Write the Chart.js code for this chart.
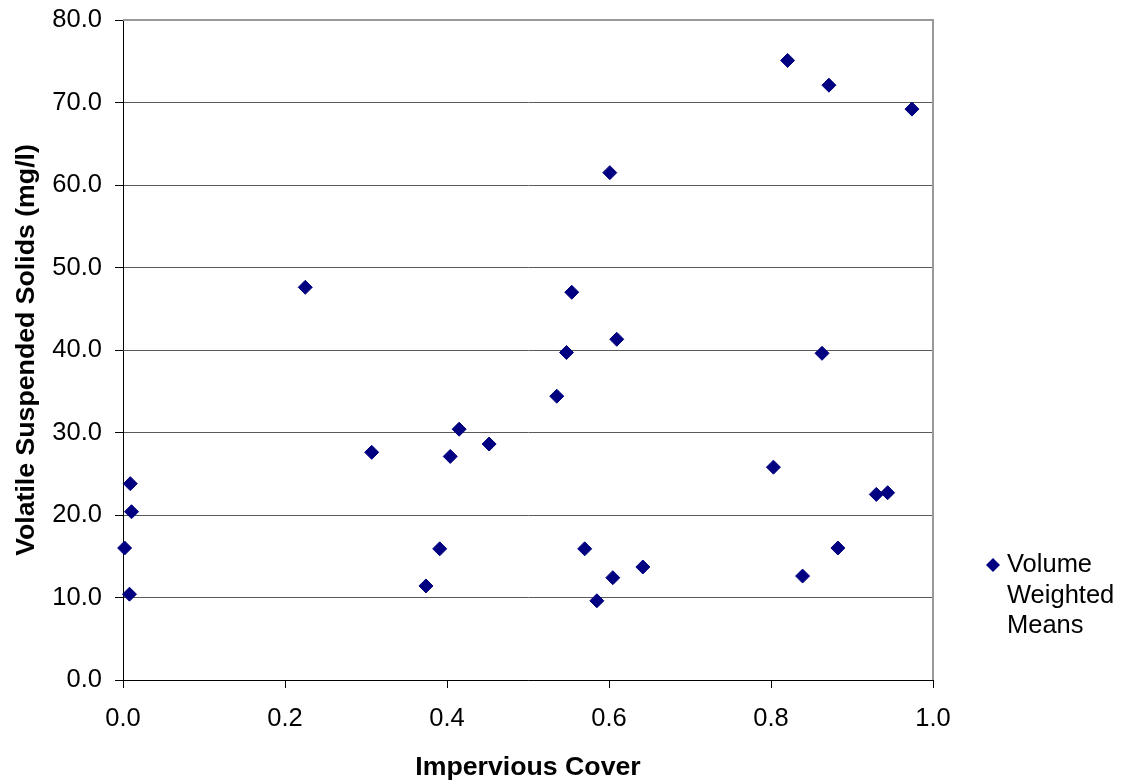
<!DOCTYPE html>
<html>
<head>
<meta charset="utf-8">
<script src="https://cdn.jsdelivr.net/npm/chart.js@4/dist/chart.umd.min.js"></script>
<style>
  html, body { margin: 0; padding: 0; background: #fff; }
  #wrap { width: 1129px; height: 782px; position: relative; }
</style>
</head>
<body>
<div id="wrap"><canvas id="plot"></canvas></div>
<script>
// values
const seriesName = ['Volume', 'Weighted', 'Means'];
const imperviousCover = [0.002, 0.008, 0.009, 0.0105, 0.225, 0.307, 0.374, 0.391, 0.404, 0.415,
  0.452, 0.5355, 0.5475, 0.554, 0.570, 0.585, 0.601, 0.6047, 0.6096, 0.6418,
  0.803, 0.8205, 0.839, 0.863, 0.8715, 0.8826, 0.930, 0.944, 0.974];
const vssMgL = [16.0, 10.4, 23.8, 20.4, 47.6, 27.6, 11.4, 15.9, 27.1, 30.4,
  28.6, 34.4, 39.7, 47.0, 15.9, 9.6, 61.5, 12.4, 41.3, 13.7,
  25.8, 75.1, 12.6, 39.6, 72.1, 16.0, 22.5, 22.7, 69.2];
const xTicks = [0, 0.2, 0.4, 0.6, 0.8, 1.0];
const yTicks = [0, 10, 20, 30, 40, 50, 60, 70, 80];

const navy = '#000080';
const fontFamily = '"Liberation Sans", Arial, sans-serif';

// gray frame on top and right of the plot area (Excel style)
const frame = {
    id: 'frame',
    afterDatasetsDraw(chart) {
        const a = chart.chartArea;
        const c = chart.ctx;
        c.save();
        c.strokeStyle = '#999';
        c.lineWidth = 2;
        c.beginPath();
        c.moveTo(a.left, a.top);
        c.lineTo(a.right, a.top);
        c.lineTo(a.right, a.bottom);
        c.stroke();
        c.restore();
    }
};

// legend with the label wrapped on three lines
const wrappedLegend = {
    id: 'wrappedLegend',
    afterDraw(chart) {
        const c = chart.ctx;
        const x = 993, y = 565, r = 7;
        c.save();
        c.fillStyle = navy;
        c.beginPath();
        c.moveTo(x - r, y);
        c.lineTo(x, y - r);
        c.lineTo(x + r, y);
        c.lineTo(x, y + r);
        c.closePath();
        c.fill();
        c.fillStyle = '#000';
        c.font = '25.5px ' + fontFamily;
        c.textBaseline = 'middle';
        c.textAlign = 'left';
        seriesName.forEach((line, i) => c.fillText(line, 1007, 565 + i * 30.5));
        c.restore();
    }
};

const ctx = document.getElementById('plot');
let plot = new Chart(ctx, {
    type: 'scatter',
    data: {
        datasets: [{
            label: seriesName.join(' '),
            data: imperviousCover.map((x, i) => ({ x: x, y: vssMgL[i] })),
            pointStyle: 'rectRot',
            pointRadius: 7,
            pointHoverRadius: 7,
            backgroundColor: navy,
            borderColor: navy,
            borderWidth: 1,
            clip: false
        }]
    },
    options: {
        responsive: true,
        maintainAspectRatio: false,
        animation: false,
        layout: { autoPadding: false, padding: { top: 20, right: 196, left: 0, bottom: 0 } },
        plugins: {
            legend: { display: false },
            tooltip: { enabled: false }
        },
        scales: {
            x: {
                type: 'linear',
                min: 0,
                max: 1,
                afterFit: (s) => { s.height = 102; s.paddingLeft = 0; s.paddingRight = 0; },
                afterBuildTicks: (s) => { s.ticks = xTicks.map(v => ({ value: v })); },
                grid: { drawOnChartArea: false, drawTicks: true, tickLength: 8, color: '#000' },
                border: { color: '#000', width: 1 },
                ticks: {
                    color: '#000',
                    padding: 16,
                    maxRotation: 0,
                    font: { family: fontFamily, size: 25.5 },
                    callback: (v) => Number(v).toFixed(1)
                },
                title: {
                    display: true,
                    text: 'Impervious Cover',
                    color: '#000',
                    padding: { top: 0, bottom: 1 },
                    font: { family: fontFamily, size: 26.7, weight: 'bold', lineHeight: 1 }
                }
            },
            y: {
                type: 'linear',
                min: 0,
                max: 80,
                afterFit: (s) => { s.width = 123; s.paddingTop = 0; s.paddingBottom = 0; },
                afterBuildTicks: (s) => { s.ticks = yTicks.map(v => ({ value: v })); },
                grid: { color: '#5a5a5a', tickColor: '#000', tickLength: 8, lineWidth: 1 },
                border: { color: '#000', width: 1 },
                ticks: {
                    color: '#000',
                    padding: 13,
                    font: { family: fontFamily, size: 25.5 },
                    callback: (v) => Number(v).toFixed(1)
                },
                title: {
                    display: true,
                    text: 'Volatile Suspended Solids (mg/l)',
                    color: '#000',
                    padding: { top: 13, bottom: 0 },
                    font: { family: fontFamily, size: 26.7, weight: 'bold', lineHeight: 1 }
                }
            }
        }
    },
    plugins: [frame, wrappedLegend]
});
</script>
</body>
</html>
